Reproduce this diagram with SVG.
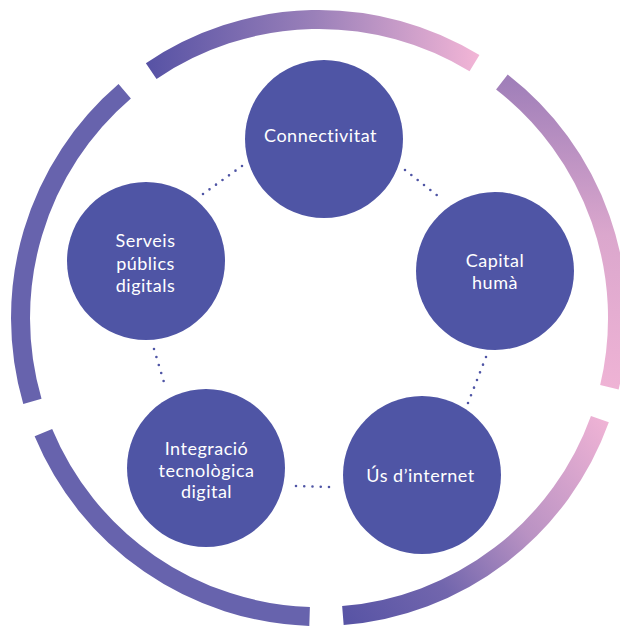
<svg xmlns="http://www.w3.org/2000/svg" width="620" height="626" viewBox="0 0 620 626">
<style>
.ring{fill:none;stroke-width:19}
.node{fill:#4f55a5}
.lbl{fill:#ffffff;font-family:Lato,"Noto Sans","Liberation Sans",sans-serif;font-size:18px;letter-spacing:0.5px;text-anchor:middle}
.dot{stroke:#4f55a5;stroke-width:2.6;stroke-linecap:round;fill:none}
</style>
<defs>
<linearGradient id="gTop" gradientUnits="userSpaceOnUse" x1="150" y1="0" x2="478" y2="0">
<stop offset="0" stop-color="#5853a5"/>
<stop offset="0.5" stop-color="#9a80b9"/>
<stop offset="1" stop-color="#f2b5d6"/>
</linearGradient>
<linearGradient id="gRight" gradientUnits="userSpaceOnUse" x1="0" y1="80" x2="0" y2="390">
<stop offset="0" stop-color="#a07fb9"/>
<stop offset="0.5" stop-color="#dba7cd"/>
<stop offset="1" stop-color="#efb3d5"/>
</linearGradient>
<linearGradient id="gBR" gradientUnits="userSpaceOnUse" x1="342" y1="615" x2="605" y2="420">
<stop offset="0" stop-color="#5854a5"/>
<stop offset="0.3" stop-color="#7266ad"/>
<stop offset="0.6" stop-color="#b992c3"/>
<stop offset="1" stop-color="#efb3d5"/>
</linearGradient>
</defs>
<g id="ring">
<path class="ring" stroke="url(#gTop)" d="M151.2 71.1 A298.5 298.5 0 0 1 474.5 63.2"/>
<path class="ring" stroke="url(#gRight)" d="M501.9 82.1 A298.5 298.5 0 0 1 609.4 387.2"/>
<path class="ring" stroke="url(#gBR)" d="M599.9 419.1 A298.5 298.5 0 0 1 342.9 615.5"/>
<path class="ring" stroke="#6763ad" d="M309.6 616.4 A298.5 298.5 0 0 1 43.4 432.7"/>
<path class="ring" stroke="#6763ad" d="M32.4 401.3 A298.5 298.5 0 0 1 124.7 91.3"/>
</g>
<g id="connectors">
<line class="dot" x1="203" y1="194" x2="242" y2="166" stroke-dasharray="0 8.0"/>
<line class="dot" x1="405" y1="170" x2="443" y2="200" stroke-dasharray="0 8.07"/>
<line class="dot" x1="154" y1="349" x2="166" y2="389" stroke-dasharray="0 8.36"/>
<line class="dot" x1="486" y1="357" x2="468" y2="403" stroke-dasharray="0 8.23"/>
<line class="dot" x1="296" y1="486" x2="329" y2="487" stroke-dasharray="0 8.25"/>
</g>
<g id="connectivitat">
<circle class="node" cx="324" cy="139" r="79"/>
<text class="lbl" x="320.5" y="142">Connectivitat</text>
</g>
<g id="capital-huma">
<circle class="node" cx="495" cy="271" r="79"/>
<text class="lbl" x="495" y="267">Capital</text>
<text class="lbl" x="495" y="289">humà</text>
</g>
<g id="us-internet">
<circle class="node" cx="422" cy="475" r="79"/>
<text class="lbl" x="420.5" y="482">Ús d’internet</text>
</g>
<g id="integracio">
<circle class="node" cx="206" cy="468" r="79"/>
<text class="lbl" x="206.5" y="455">Integració</text>
<text class="lbl" x="206.5" y="477">tecnològica</text>
<text class="lbl" x="206.5" y="498">digital</text>
</g>
<g id="serveis">
<circle class="node" cx="146" cy="261" r="79"/>
<text class="lbl" x="145.5" y="247">Serveis</text>
<text class="lbl" x="145.5" y="269.5">públics</text>
<text class="lbl" x="145.5" y="292">digitals</text>
</g>
</svg>
